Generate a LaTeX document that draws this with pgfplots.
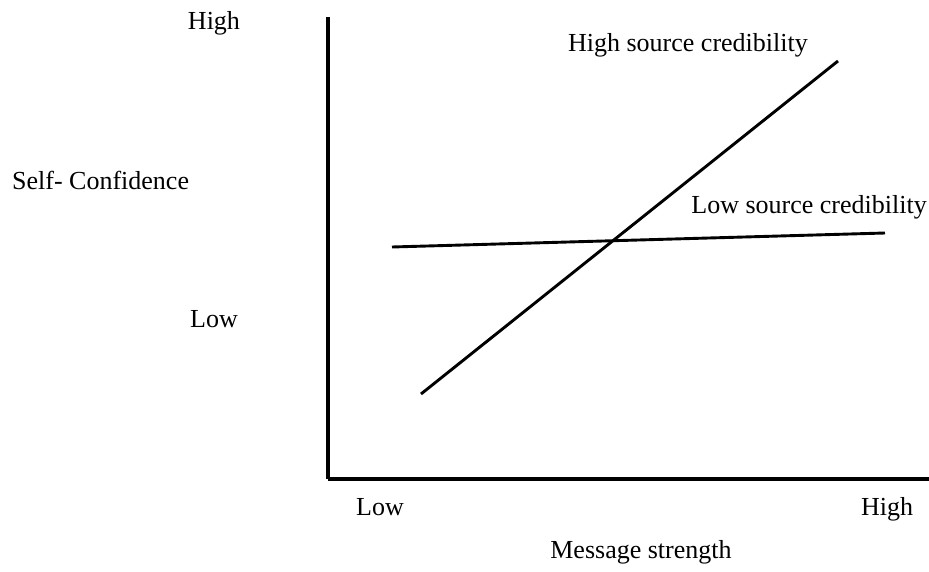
\documentclass[border=0pt]{standalone}
\usepackage{pgfplots}
\pgfplotsset{compat=1.18}
\usepackage{fontspec}
\setmainfont{Liberation Serif}
\begin{document}
\fontsize{26}{30}\selectfont
\begin{tikzpicture}
\begin{axis}[
  scale only axis,
  width=601pt, height=462pt,
  xmin=328, xmax=929, ymin=92, ymax=554,
  axis x line=bottom, axis y line=left,
  axis line style={-, line width=3.2pt},
  xtick=\empty, ytick=\empty,
  clip=false,
]
\addplot[black, line width=2.9pt] coordinates {(421,177) (838,510)};
\addplot[black, line width=2.9pt] coordinates {(392,324) (885,338)};
\coordinate (bl) at (axis cs:0,0);
\coordinate (tr) at (axis cs:929,571);
\node[anchor=base] at (axis cs:214,541) {High};
\node[anchor=base west, inner sep=0pt] at (axis cs:12,382) {Self- Confidence};
\node[anchor=base] at (axis cs:214,244) {Low};
\node[anchor=base] at (axis cs:380,56) {Low};
\node[anchor=base] at (axis cs:887,56) {High};
\node[anchor=base] at (axis cs:641,13) {Message strength};
\node[anchor=base] at (axis cs:688,519) {High source credibility};
\node[anchor=base east, inner sep=0pt] at (axis cs:927,358) {Low source credibility};
\end{axis}
\pgfresetboundingbox
\path (bl) rectangle (tr);
\end{tikzpicture}
\end{document}
